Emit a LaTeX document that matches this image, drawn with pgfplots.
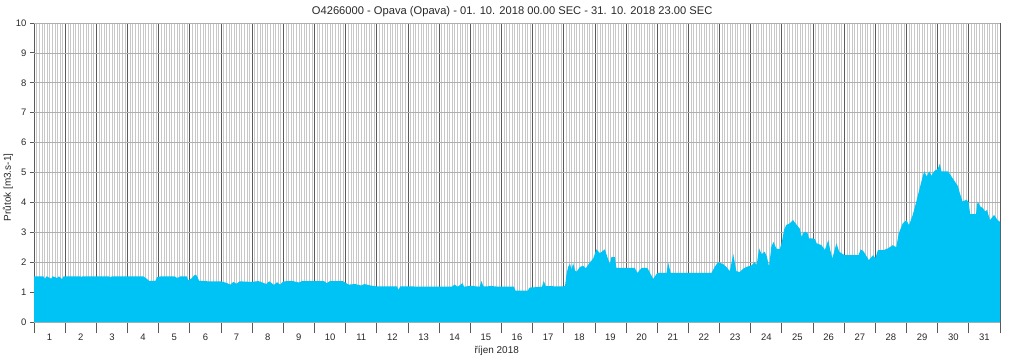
\documentclass[border=0pt]{standalone}
\usepackage{fontspec}
\setmainfont{Liberation Sans}
\usepackage{pgfplots}
\pgfplotsset{compat=1.18}
\usepackage{pgfplotstable}
\definecolor{flow}{RGB}{0,195,245}
\definecolor{majgrid}{RGB}{90,90,90}
\definecolor{mingrid}{RGB}{200,200,200}
\definecolor{hgrid}{RGB}{175,175,175}
\definecolor{txt}{RGB}{40,40,40}
\pgfplotstableread{
x v
0 1.53
0.3 1.53
0.35 1.44
0.4 1.53
0.55 1.45
0.6 1.53
0.75 1.47
0.8 1.53
0.9 1.43
0.95 1.53
1.5 1.53
1.52 1.49
1.55 1.53
2.4 1.53
2.45 1.49
2.5 1.53
3.5 1.53
3.6 1.46
3.7 1.37
3.9 1.38
3.95 1.50
4.1 1.53
4.5 1.53
4.6 1.47
4.7 1.53
4.9 1.53
4.95 1.40
5.05 1.45
5.15 1.57
5.22 1.56
5.3 1.38
5.6 1.36
6.0 1.36
6.2 1.30
6.3 1.25
6.4 1.34
6.5 1.28
6.6 1.36
7.0 1.34
7.2 1.37
7.45 1.27
7.55 1.36
7.7 1.24
7.8 1.33
7.9 1.25
8.0 1.36
8.3 1.37
8.5 1.32
8.6 1.37
9.0 1.37
9.3 1.37
9.4 1.30
9.5 1.37
9.9 1.37
10.1 1.25
10.3 1.27
10.5 1.22
10.6 1.27
10.8 1.22
11.0 1.19
11.65 1.19
11.7 1.07
11.75 1.19
13.4 1.18
13.5 1.25
13.6 1.18
13.75 1.30
13.8 1.18
14.0 1.21
14.3 1.18
14.36 1.37
14.42 1.19
14.7 1.20
14.9 1.18
15.4 1.18
15.45 1.05
15.85 1.05
15.9 1.15
16.3 1.18
16.36 1.37
16.42 1.20
16.95 1.19
17.04 1.20
17.09 1.60
17.14 1.84
17.20 1.95
17.25 1.75
17.30 1.97
17.36 1.73
17.41 1.68
17.52 1.84
17.62 1.88
17.71 1.80
17.84 2.00
17.94 2.11
18.05 2.43
18.16 2.30
18.32 2.43
18.42 2.11
18.48 1.94
18.53 2.17
18.64 2.17
18.69 1.81
19.01 1.81
19.28 1.81
19.36 1.64
19.50 1.81
19.68 1.81
19.76 1.66
19.87 1.44
20.00 1.64
20.30 1.64
20.35 2.00
20.43 1.64
21.74 1.64
21.85 1.85
21.95 2.00
22.11 1.94
22.22 1.84
22.33 1.70
22.44 2.27
22.54 1.70
22.65 1.67
22.76 1.78
22.86 1.84
23.02 1.89
23.13 2.00
23.19 1.90
23.27 2.46
23.35 2.27
23.45 2.35
23.52 2.18
23.59 1.85
23.66 2.51
23.73 2.68
23.82 2.46
23.93 2.43
24.00 2.68
24.07 3.08
24.14 3.24
24.25 3.30
24.36 3.41
24.42 3.32
24.57 3.13
24.64 2.85
24.71 3.02
24.82 2.99
24.87 2.80
24.95 2.80
25.05 2.78
25.12 2.63
25.27 2.57
25.38 2.41
25.49 2.74
25.55 2.41
25.62 2.13
25.75 2.63
25.84 2.35
26.00 2.24
26.46 2.24
26.53 2.43
26.63 2.35
26.79 2.07
26.93 2.24
27.00 2.13
27.08 2.40
27.25 2.40
27.40 2.46
27.56 2.57
27.67 2.50
27.75 2.96
27.88 3.30
28.00 3.41
28.08 3.24
28.20 3.58
28.30 3.97
28.41 4.42
28.52 4.87
28.57 5.04
28.65 4.87
28.73 5.04
28.80 4.89
28.88 5.04
29.00 5.12
29.07 5.29
29.12 5.04
29.23 5.04
29.33 5.04
29.44 4.87
29.55 4.70
29.65 4.54
29.71 4.31
29.80 4.03
29.93 4.09
30.00 3.98
30.04 3.61
30.23 3.61
30.28 4.03
30.37 3.86
30.46 3.80
30.52 3.69
30.58 3.75
30.68 3.41
30.81 3.58
30.92 3.41
31.00 3.35
}\flowdata
\begin{document}
\begin{tikzpicture}
\path[use as bounding box] (-34bp,-39bp) rectangle (990bp,322bp);
\begin{axis}[
  at={(0,0)}, anchor=south west,
  scale only axis, width=966bp, height=299bp,
  xmin=0, xmax=31, ymin=0, ymax=10,
  xtick={0,...,31}, xticklabels={},
  minor x tick num=11,
  ytick=\empty,
  extra y ticks={0,...,10},
  extra y tick style={major tick length=4bp, grid=major},
  extra x ticks={0.5,1.5,...,30.5},
  extra x tick labels={1,2,3,4,5,6,7,8,9,10,11,12,13,14,15,16,17,18,19,20,21,22,23,24,25,26,27,28,29,30,31},
  extra x tick style={major tick length=0pt, grid=none, tick style={draw=none}, ticklabel style={yshift=-8bp}},
  tick align=outside,
  tick style={draw=majgrid, line width=0.8bp},
  xtick pos=bottom, ytick pos=left,
  major tick length=11bp,
  minor tick length=0pt,
  xmajorgrids, xminorgrids, ymajorgrids,
  major x grid style={draw=majgrid, line width=0.8bp},
  minor x grid style={draw=mingrid, line width=0.5bp},
  major y grid style={draw=hgrid, line width=0.6bp},
  axis line style={draw=majgrid, line width=0.8bp},
  ticklabel style={font=\fontsize{9.5}{11}\selectfont, text=txt},
  /pgf/number format/assume math mode=true,
  title={O4266000 - Opava (Opava) - 01. 10. 2018 00.00 SEC - 31. 10. 2018 23.00 SEC},
  title style={at={(axis description cs:0.495,1)}, anchor=base, yshift=3bp, font=\fontsize{11.2}{13}\selectfont, text=txt},
  xlabel={říjen 2018},
  xlabel style={at={(axis description cs:0.479,-0.097)}, anchor=center, font=\fontsize{10}{12}\selectfont, text=txt},
  ylabel={Průtok [m3.s-1]},
  ylabel style={at={(axis description cs:-0.027,0.45)}, anchor=center, font=\fontsize{10}{12}\selectfont, text=txt},
]
\addplot[fill=flow, draw=none] table[x=x, y=v] {\flowdata} \closedcycle;
\end{axis}
\end{tikzpicture}
\end{document}
